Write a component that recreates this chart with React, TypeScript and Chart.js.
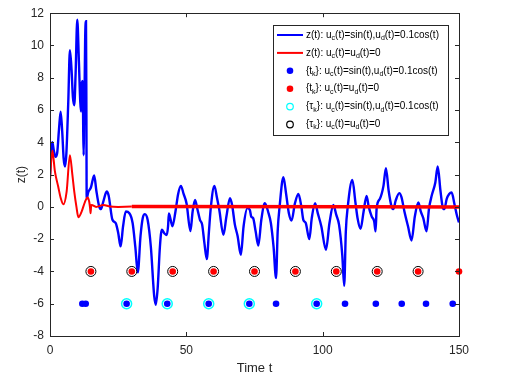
import React, { useEffect, useRef } from "react";
import { Chart, registerables } from "chart.js";

Chart.register(...registerables);

// ---- data ----
const blueT = [0, 0.4, 0.85, 1.4, 2.0, 2.6, 3.3, 3.9, 4.5, 5.0, 5.5, 6.0, 6.7, 7.3, 7.9, 8.4, 8.9, 9.4, 10.0, 10.6, 11.1, 11.4, 11.7, 12.0, 12.2, 12.35, 12.5, 12.7, 12.9, 13.2, 13.35, 13.45, 14.0, 15.0, 16.2, 17.0, 18.0, 18.7, 19.5, 20.8, 21.5, 22.9, 24.1, 25.0, 25.9, 26.8, 27.8, 29.1, 30.3, 31.3, 32.2, 33.2, 34.0, 34.8, 35.8, 37.0, 38.2, 38.8, 39.5, 40.3, 41.0, 41.9, 42.8, 43.3, 43.6, 44.9, 46.0, 47.0, 48.0, 49.0, 50.1, 51.5, 52.3, 53.2, 54.0, 55.0, 55.8, 56.6, 57.5, 58.3, 59.0, 60.3, 61.2, 62.1, 63.6, 64.7, 66.0, 66.8, 67.8, 68.8, 70.0, 71.0, 72.4, 73.3, 73.8, 74.5, 75.4, 76.4, 77.5, 78.8, 80.0, 81.0, 82.0, 82.9, 83.5, 84.2, 85.6, 86.6, 87.6, 88.6, 89.8, 91.1, 92.2, 92.9, 93.8, 95.1, 96.0, 97.2, 98.2, 99.5, 101.2, 102.5, 103.9, 105.0, 106.0, 107.2, 107.9, 108.5, 109.2, 110.9, 112.0, 112.8, 113.9, 115.0, 116.1, 116.9, 118.0, 118.9, 119.4, 119.8, 121.0, 122.3, 123.2, 124.2, 125.3, 125.9, 126.8, 128.1, 128.9, 130.0, 131.3, 132.6, 133.8, 135.1, 136.0, 136.9, 138.1, 139.0, 140.0, 141.3, 142.2, 143.2, 144.0, 144.6, 145.5, 146.4, 147.3, 148.3, 149.2, 150.0];
const blueZ = [2.0, 3.4, 4.0, 3.5, 3.1, 3.3, 4.8, 5.9, 4.6, 3.0, 2.5, 3.3, 6.5, 9.7, 8.5, 6.8, 6.3, 8.3, 11.6, 9.0, 6.5, 5.9, 7.7, 7.8, 4.5, 3.2, 5.5, 7.5, 10.5, 11.5, 6.0, 0.5, 0.9, 1.2, 1.94, 1.0, 0.05, -0.14, 0.3, 0.95, 0.7, -0.8, -1.0, -1.6, -2.45, -1.2, -0.29, -0.39, -1.0, -2.5, -4.06, -1.8, -0.7, -0.45, -0.8, -2.5, -5.5, -6.06, -5.0, -2.5, -1.42, -1.63, -1.75, -1.2, -0.4, -1.2, -0.3, 0.8, 1.3, 0.8, 0.2, -1.5, -0.3, 0.43, -0.1, -0.8, -1.1, -2.2, -3.24, -1.5, 0.0, 1.3, 0.6, -0.19, -1.73, -0.6, 0.54, 0.1, -1.1, -1.8, -2.97, -1.2, -0.08, -0.19, -0.6, -0.7, -1.5, -2.4, -0.8, 0.23, -0.3, -1.0, -2.5, -4.41, -1.5, 0.0, 1.84, 0.8, -0.4, -0.85, 0.2, 0.8, 0.0, -0.8, -1.0, -2.0, -0.7, 0.23, -0.39, -1.2, -2.66, -1.0, 0.12, -0.5, -1.1, -3.0, -4.89, -1.5, 0.0, 1.67, 0.3, -0.7, -1.36, -0.3, 0.68, 0.0, -0.6, -0.9, -1.52, -0.08, 0.5, 1.3, 2.4, 1.0, 0.0, -0.14, 0.4, 0.85, 0.6, -0.3, -1.2, -2.08, -0.6, 0.27, -0.3, -0.7, -1.52, -0.1, 0.7, 1.5, 2.5, 1.0, 0.0, -0.14, 0.5, 0.8, 0.89, 0.2, -0.5, -0.97];

const redT = [0, 0.85, 1.8, 3.0, 4.0, 4.9, 6.1, 7.3, 8.2, 8.9, 9.7, 10.4, 11.6, 12.8, 13.8, 14.4, 14.7, 14.9, 15.1, 15.3, 16.9, 19.6, 22.0, 25.0, 30.0, 150.0];
const redZ = [1.67, 3.5, 2.2, 1.26, 0.5, 0.16, 0.95, 3.2, 2.0, 0.95, 0.0, -0.64, -0.29, 0.3, 0.58, 0.3, -0.08, -0.4, 0.1, 0.12, 0.0, 0.12, 0.02, 0.0, 0.02, 0.0];

// event times
const redTk = [15, 30, 45, 60, 75, 90, 105, 120, 135, 150];
const redTkLevel = -4;
const redTau = [15, 30, 45, 60, 75, 90, 105, 120, 135];
const blueTk = [11.85, 13.1, 28.1, 43.0, 58.2, 73.1, 82.9, 97.8, 108.2, 119.5, 129.0, 137.9, 147.7];
const blueTkLevel = -6;
const blueTau = [28.1, 43.0, 58.2, 73.1, 97.8];

const xTicks = [0, 50, 100, 150];
const yTicks = [-8, -6, -4, -2, 0, 2, 4, 6, 8, 10, 12];

const xTitle = "Time t";
const yTitle = "z(t)";

type Seg = [string, boolean];
const legendLabels: Seg[][] = [
  [["z(t): u", false], ["c", true], ["(t)=sin(t),u", false], ["d", true], ["(t)=0.1cos(t)", false]],
  [["z(t): u", false], ["c", true], ["(t)=u", false], ["d", true], ["(t)=0", false]],
  [["{t", false], ["k", true], ["}: u", false], ["c", true], ["(t)=sin(t),u", false], ["d", true], ["(t)=0.1cos(t)", false]],
  [["{t", false], ["k", true], ["}: u", false], ["c", true], ["(t)=u", false], ["d", true], ["(t)=0", false]],
  [["{\u03C4", false], ["k", true], ["}: u", false], ["c", true], ["(t)=sin(t),u", false], ["d", true], ["(t)=0.1cos(t)", false]],
  [["{\u03C4", false], ["k", true], ["}: u", false], ["c", true], ["(t)=u", false], ["d", true], ["(t)=0", false]],
];
const legendKinds = ["line", "line", "dot", "dot", "ring", "ring"];
const legendColors = ["#0000ff", "#ff0000", "#0000ff", "#ff0000", "#00ffff", "#000000"];

const AXIS = "#262626";
const FONT = "'Liberation Sans', Arial, Helvetica, sans-serif";

const boxPlugin = {
  id: "matlabBox",
  afterDatasetsDraw(chart: any) {
    const { ctx, chartArea: a, scales } = chart;
    ctx.save();
    ctx.strokeStyle = AXIS;
    ctx.lineWidth = 1;
    ctx.strokeRect(Math.round(a.left) + 0.5, Math.round(a.top) + 0.5, Math.round(a.right - a.left), Math.round(a.bottom - a.top));
    const L = 4;
    ctx.beginPath();
    for (const v of xTicks) {
      const x = Math.round(scales.x.getPixelForValue(v)) + 0.5;
      ctx.moveTo(x, a.bottom); ctx.lineTo(x, a.bottom - L);
      ctx.moveTo(x, a.top); ctx.lineTo(x, a.top + L);
    }
    for (const v of yTicks) {
      const y = Math.round(scales.y.getPixelForValue(v)) + 0.5;
      ctx.moveTo(a.left, y); ctx.lineTo(a.left + L, y);
      ctx.moveTo(a.right, y); ctx.lineTo(a.right - L, y);
    }
    ctx.stroke();
    ctx.restore();
  },
  afterDraw(chart: any) {
    const { ctx } = chart;
    const bx = 273, by = 25, bw = 175, bh = 110;
    ctx.save();
    ctx.fillStyle = "#ffffff";
    ctx.fillRect(bx, by, bw, bh);
    ctx.strokeStyle = AXIS;
    ctx.lineWidth = 1;
    ctx.strokeRect(bx + 0.5, by + 0.5, bw, bh);
    const rowY0 = 35, rowStep = 17.9;
    legendLabels.forEach((segs, i) => {
      const y = rowY0 + i * rowStep;
      const kind = legendKinds[i];
      const col = legendColors[i];
      if (kind === "line") {
        ctx.strokeStyle = col;
        ctx.lineWidth = 2;
        ctx.beginPath();
        ctx.moveTo(277, y); ctx.lineTo(303, y);
        ctx.stroke();
      } else if (kind === "dot") {
        ctx.fillStyle = col;
        ctx.beginPath();
        ctx.arc(290, y, 3.3, 0, Math.PI * 2);
        ctx.fill();
      } else {
        ctx.strokeStyle = col;
        ctx.lineWidth = 1.2;
        ctx.beginPath();
        ctx.arc(290, y, 3.3, 0, Math.PI * 2);
        ctx.stroke();
      }
      let x = 306;
      ctx.fillStyle = "#000000";
      ctx.textBaseline = "middle";
      ctx.textAlign = "left";
      for (const [txt, sub] of segs) {
        ctx.font = sub ? `7px ${FONT}` : `10px ${FONT}`;
        ctx.fillText(txt, x, sub ? y + 3 : y);
        x += ctx.measureText(txt).width;
      }
    });
    ctx.restore();
  },
};

export default function App() {
  const ref = useRef<HTMLCanvasElement | null>(null);
  useEffect(() => {
    document.body.style.margin = "0";
    const canvas = ref.current!;
    const pts = (xs: number[], ys: number[]) => xs.map((x, i) => ({ x, y: ys[i] }));
    const lvl = (xs: number[], v: number) => xs.map((x) => ({ x, y: v }));
    const chart = new Chart(canvas, {
      type: "line",
      data: {
        datasets: [
          {
            data: pts(blueT, blueZ),
            borderColor: "#0000ff",
            borderWidth: 2.4,
            pointRadius: 0,
            cubicInterpolationMode: "monotone",
            order: 5,
          } as any,
          {
            data: pts(redT, redZ),
            borderColor: "#ff0000",
            borderWidth: 2,
            pointRadius: 0,
            cubicInterpolationMode: "monotone",
            segment: { borderWidth: (c: any) => (c.p0.parsed.x >= 29.9 ? 3.5 : 2) },
            order: 4,
          } as any,
          {
            type: "scatter",
            data: lvl(redTk, redTkLevel),
            pointRadius: 3.3,
            pointBackgroundColor: "#ff0000",
            pointBorderWidth: 0,
            showLine: false,
            clip: false,
            order: 3,
          } as any,
          {
            type: "scatter",
            data: lvl(redTau, redTkLevel),
            pointRadius: 5,
            pointBackgroundColor: "rgba(0,0,0,0)",
            pointBorderColor: "#000000",
            pointBorderWidth: 1,
            showLine: false,
            clip: false,
            order: 2,
          } as any,
          {
            type: "scatter",
            data: lvl(blueTk, blueTkLevel),
            pointRadius: 3.3,
            pointBackgroundColor: "#0000ff",
            pointBorderWidth: 0,
            showLine: false,
            clip: false,
            order: 1,
          } as any,
          {
            type: "scatter",
            data: lvl(blueTau, blueTkLevel),
            pointRadius: 5,
            pointBackgroundColor: "rgba(0,0,0,0)",
            pointBorderColor: "#00ffff",
            pointBorderWidth: 1.5,
            showLine: false,
            clip: false,
            order: 0,
          } as any,
        ],
      },
      options: {
        responsive: false,
        animation: false,
        events: [],
        layout: { padding: { top: 13, right: 48, left: 0, bottom: 0 } },
        plugins: { legend: { display: false }, tooltip: { enabled: false } },
        scales: {
          x: {
            type: "linear",
            min: 0,
            max: 150,
            afterFit: (s: any) => { s.height = 52; },
            afterBuildTicks: (s: any) => { s.ticks = xTicks.map((v) => ({ value: v })); },
            grid: { display: false, drawTicks: false },
            border: { display: false },
            ticks: { color: AXIS, padding: 7, font: { size: 12, family: FONT }, maxRotation: 0 },
            title: { display: true, text: xTitle, color: AXIS, font: { size: 13, family: FONT }, padding: { top: 0, bottom: 12.2 } },
          },
          y: {
            type: "linear",
            min: -8,
            max: 12,
            afterFit: (s: any) => { s.width = 50; },
            afterBuildTicks: (s: any) => { s.ticks = yTicks.map((v) => ({ value: v })); },
            grid: { display: false, drawTicks: false },
            border: { display: false },
            ticks: { color: AXIS, padding: 6, font: { size: 12, family: FONT } },
            title: { display: true, text: yTitle, color: AXIS, font: { size: 12, family: FONT }, padding: { top: 14.8, bottom: 0 } },
          },
        },
      } as any,
      plugins: [boxPlugin],
    });
    return () => chart.destroy();
  }, []);
  return (
    <div style={{ width: 507, height: 388, background: "#fff" }}>
      <canvas ref={ref} width={507} height={388} />
    </div>
  );
}
